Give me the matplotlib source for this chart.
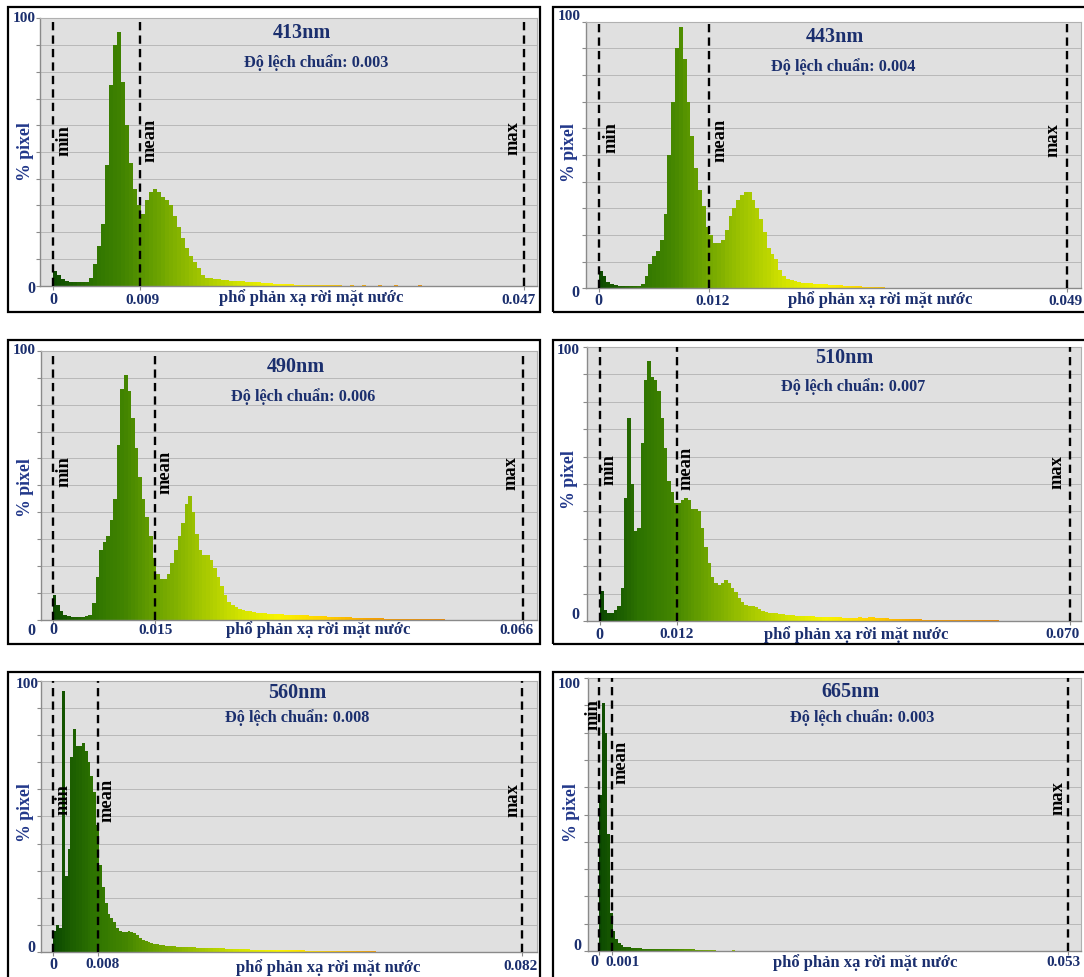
import matplotlib
matplotlib.use('Agg')
import matplotlib.pyplot as plt
from matplotlib.colors import LinearSegmentedColormap
from matplotlib.patches import Rectangle

plt.rcParams['font.family'] = ['Liberation Serif', 'DejaVu Serif']

# ---------------- data ----------------
bands = ['413nm', '443nm', '490nm', '510nm', '560nm', '665nm']
std_labels = ['0.003', '0.004', '0.006', '0.007', '0.008', '0.003']
mean_values = [0.0087, 0.0116, 0.0144, 0.0115, 0.0078, 0.0014]
mean_labels = ['0.009', '0.012', '0.015', '0.012', '0.008', '0.001']
max_values = [0.047, 0.049, 0.066, 0.070, 0.082, 0.053]
max_labels = ['0.047', '0.049', '0.066', '0.070', '0.082', '0.053']
bin_widths = [0.0004, 0.0004, 0.0005, 0.0005, 0.0005, 0.0003]

h413 = [5.5, 4, 2.5, 1.8, 1.3, 1.2, 1.2, 1.2, 1.5, 3, 8, 15, 23, 45, 75, 90, 95, 76, 60, 46,
        36, 30, 27, 32, 35, 36, 35, 33, 32, 30, 26, 22, 18, 14, 11, 9, 6.5, 4, 3, 2.8,
        2.6, 2.4, 2.2, 2.0, 1.9, 1.8, 1.7, 1.6, 1.5, 1.5, 1.4, 1.2, 1.1, 1.0, 0.9, 0.8, 0.7, 0.6, 0.5, 0.5,
        0.4, 0.4, 0.4, 0.3, 0.3, 0.3, 0.2, 0.2, 0.1, 0.1, 0.1, 0.1, 0, 0, 0.1, 0, 0, 0.1, 0, 0,
        0, 0.1, 0, 0, 0, 0.1, 0, 0, 0, 0, 0, 0.1]
h443 = [6.5, 4.5, 2.5, 1.6, 1.2, 1.0, 0.9, 0.8, 0.8, 0.9, 1.0, 1.8, 4.5, 9, 12, 14, 18, 28, 50, 70,
        90, 98, 86, 70, 57, 45, 37, 31, 23, 20, 17, 17, 18, 22, 27, 30, 33, 35, 36, 36,
        33, 30, 26, 21, 15, 13, 11, 7, 4.5, 3.5, 3.0, 2.6, 2.3, 2.1, 2.0, 1.9, 1.8, 1.7, 1.6, 1.5,
        1.4, 1.3, 1.2, 1.1, 1.0, 0.9, 0.9, 0.8, 0.7, 0.6, 0.5, 0.5, 0.4, 0.4, 0.4, 0.3, 0.3, 0.3, 0.3, 0.3,
        0.2, 0.2, 0.2, 0.2, 0.2, 0.2, 0.2, 0.1, 0.1]
h490 = [9, 5.5, 3, 1.8, 1.2, 1.0, 0.9, 0.9, 1.0, 1.2, 1.8, 6, 16, 26, 29, 31, 37, 45, 65, 86,
        91, 85, 75, 64, 53, 45, 38, 31, 23, 17, 15, 15, 17, 21, 26, 31, 36, 43, 46, 40,
        32, 26, 24, 24, 22, 19, 16, 12.5, 9, 6.5, 5.5, 4.7, 4, 3.5, 3.2, 3.0, 2.8, 2.6, 2.4, 2.3,
        2.2, 2.1, 2.0, 1.9, 1.9, 1.8, 1.8, 1.7, 1.6, 1.6, 1.5, 1.5, 1.4, 1.4, 1.3, 1.2, 1.2, 1.1, 1.1, 1.0,
        1.0, 0.9, 0.9, 0.8, 0.7, 0.7, 0.6, 0.6, 0.5, 0.5, 0.4, 0.4, 0.4, 0.3, 0.3, 0.3, 0.3, 0.2, 0.2, 0.2,
        0.2, 0.2, 0.2, 0.15, 0.15, 0.1, 0.1, 0.1, 0.1, 0.1]
h510 = [11, 4, 2.8, 2.8, 4, 5.5, 12, 45, 74, 50, 33, 34, 65, 88, 95, 89, 88, 84, 74, 63,
        51, 47, 43, 43, 44, 45, 44, 41, 41, 40, 34, 27, 21, 16, 14, 13, 14, 15, 14, 12,
        10.5, 8.5, 7, 6, 5.5, 5.5, 5, 4.2, 3.7, 3.3, 3.1, 3.0, 2.9, 2.7, 2.5, 2.3, 2.2, 2.1, 2.0, 1.9,
        1.8, 1.8, 1.7, 1.7, 1.6, 1.6, 1.5, 1.5, 1.4, 1.4, 1.3, 1.3, 1.2, 1.2, 1.1, 1.1, 1.2, 1.3, 1.2, 1.2,
        1.4, 1.3, 1.1, 1.0, 1.0, 1.0, 0.9, 0.9, 0.9, 0.8, 0.8, 0.7, 0.7, 0.6, 0.6, 0.6, 0.5, 0.5, 0.5, 0.5,
        0.4, 0.4, 0.4, 0.4, 0.3, 0.3, 0.3, 0.3, 0.3, 0.3, 0.2, 0.2, 0.2, 0.2, 0.2, 0.2, 0.2, 0.2, 0.2, 0.15,
        0.15, 0.15, 0.15, 0.15, 0.1, 0.1, 0.1, 0.1, 0.1]
h560 = [8, 10, 9, 96, 28, 38, 72, 82, 76, 76, 77, 74, 70, 65, 59, 47, 32, 24, 18, 14,
        12.5, 11, 9, 7.8, 7.4, 7.6, 7.8, 7.6, 7.0, 6.2, 5.4, 4.6, 4.1, 3.7, 3.4, 3.1, 2.9, 2.7, 2.6, 2.5,
        2.4, 2.3, 2.2, 2.1, 2.1, 2.0, 1.9, 1.9, 1.8, 1.8, 1.7, 1.7, 1.6, 1.6, 1.5, 1.5, 1.5, 1.4, 1.4, 1.4,
        1.3, 1.3, 1.3, 1.2, 1.2, 1.2, 1.1, 1.1, 1.1, 1.0, 1.0, 1.0, 1.0, 0.9, 0.9, 0.9, 0.9, 0.9, 0.8, 0.8,
        0.8, 0.8, 0.8, 0.7, 0.7, 0.7, 0.7, 0.7, 0.6, 0.6, 0.6, 0.6, 0.6, 0.6, 0.5, 0.5, 0.5, 0.5, 0.5, 0.4,
        0.4, 0.4, 0.4, 0.4, 0.3, 0.3, 0.3, 0.3, 0.3, 0.3, 0.3, 0.3, 0.3, 0.2, 0.2, 0.2, 0.2, 0.2, 0.2, 0.2,
        0.2, 0.2, 0.2, 0.15, 0.15, 0.15, 0.15, 0.15, 0.1, 0.1, 0.1, 0.1, 0.1, 0.1, 0.1, 0.1, 0.1, 0.1, 0.1, 0.1,
        0.1, 0.1, 0.1]
h665 = [57, 91, 80, 43, 14, 7.5, 4.5, 3, 2.2, 1.6, 1.4, 1.3, 1.2, 1.1, 1.0, 1.0, 0.9, 0.9, 0.9, 0.9,
        0.9, 0.8, 0.8, 0.8, 0.8, 0.8, 0.7, 0.7, 0.7, 0.7, 0.7, 0.6, 0.6, 0.6, 0.6, 0.6, 0.5, 0.5, 0.5, 0.5,
        0.5, 0.3, 0.2, 0.2, 0.1, 0, 0, 0, 0, 0, 0.2]
heights = [h413, h443, h490, h510, h560, h665]

# ---------------- layout (pixel positions) ----------------
W, H = 1084, 977
layout = [
    dict(box=(8, 7, 540, 312), ax=(40, 18.3, 537, 285.7), minpx=53, maxpx=524,
         title=(302, 33), sub=(316, 63), xlab=(311, 298), ylab=(25, 152), y100=(24, 18), y0=(31, 289),
         t0=(53, 300), tmean=(142, 300), tmax=(518, 300),
         mintxt=(64, 141), meantxt=(150, 140), maxtxt=(513, 138)),
    dict(box=(553, 7, 1090, 312), ax=(586, 21.7, 1081, 288.3), minpx=598.7, maxpx=1066.7,
         title=(835, 37), sub=(843, 67), xlab=(880, 300), ylab=(569, 153), y100=(569, 17), y0=(575, 293),
         t0=(598, 301), tmean=(713, 301), tmax=(1065, 301),
         mintxt=(611, 138), meantxt=(720, 140), maxtxt=(1053, 140)),
    dict(box=(8, 340, 540, 644), ax=(40.7, 351, 537, 619.5), minpx=52.8, maxpx=523.1,
         title=(296, 367), sub=(303, 397), xlab=(318, 630), ylab=(26, 488), y100=(24, 350), y0=(31, 631),
         t0=(53, 630), tmean=(156, 630), tmax=(516, 630),
         mintxt=(64, 472), meantxt=(165, 472), maxtxt=(511, 473)),
    dict(box=(553, 340, 1090, 644), ax=(587, 347, 1081, 621), minpx=600.4, maxpx=1069.5,
         title=(844, 358), sub=(853, 387), xlab=(856, 635), ylab=(570, 480), y100=(568, 351), y0=(575, 615),
         t0=(599, 635), tmean=(677, 635), tmax=(1062, 635),
         mintxt=(609, 470), meantxt=(686, 468), maxtxt=(1057, 472)),
    dict(box=(8, 672, 540, 990), ax=(40.7, 680.5, 537, 952.3), minpx=53.3, maxpx=522,
         title=(297, 693), sub=(297, 718), xlab=(328, 968), ylab=(25, 813), y100=(27, 685), y0=(31, 948),
         t0=(53, 965), tmean=(103, 965), tmax=(521, 966),
         mintxt=(63, 800), meantxt=(107, 800), maxtxt=(513, 800)),
    dict(box=(553, 672, 1090, 990), ax=(588, 678, 1081, 951), minpx=599.4, maxpx=1068,
         title=(851, 692), sub=(862, 718), xlab=(865, 963), ylab=(571, 813), y100=(569, 684), y0=(577, 946),
         t0=(594, 962), tmean=(623, 962), tmax=(1063, 962),
         mintxt=(593, 715), meantxt=(621, 762), maxtxt=(1058, 798)),
]

cmap = LinearSegmentedColormap.from_list('refl', [
    (0.00, '#0c4a00'), (0.08, '#2c7200'), (0.15, '#428400'), (0.23, '#70a600'),
    (0.32, '#a6c800'), (0.40, '#d4e400'), (0.48, '#f8f400'), (0.58, '#ffd000'),
    (0.68, '#f5a000'), (1.00, '#e87000')])

NAVY = '#1b2f6e'
fig = plt.figure(figsize=(W / 100, H / 100), dpi=100)


def fx(x):
    return x / W


def fy(y):
    return 1 - y / H


def ftext(pos, s, size, color=NAVY, rot=0, ha='center'):
    fig.text(fx(pos[0]), fy(pos[1]), s, ha=ha, va='center', fontsize=size,
             fontweight='bold', color=color, rotation=rot, zorder=5)


for k in range(6):
    L = layout[k]
    x0, y0, x1, y1 = L['box']
    fig.add_artist(Rectangle((fx(x0), fy(y1)), (x1 - x0) / W, (y1 - y0) / H,
                             transform=fig.transFigure, fill=False, lw=1.6, ec='black', zorder=1))
    al, at, ar, ab = L['ax']
    ax = fig.add_axes([fx(al), fy(ab), (ar - al) / W, (ab - at) / H])
    ax.set_facecolor('#e0e0e0')
    scale = (L['maxpx'] - L['minpx']) / max_values[k]
    ax.set_xlim(-(L['minpx'] - al) / scale, (ar - L['minpx']) / scale)
    ax.set_ylim(0, 100)

    bw = bin_widths[k]
    hs = heights[k]
    lefts = [i * bw for i in range(len(hs))]
    cols = [cmap(min(1.0, (lx + bw / 2) / max_values[k])) for lx in lefts]
    ax.bar(lefts, hs, width=bw, align='edge', color=cols, linewidth=0, zorder=2)

    for xv in (0.0, mean_values[k], max_values[k]):
        ax.axvline(xv, color='black', lw=1.7, dashes=(3.5, 2.2), zorder=4)

    ax.set_yticks(range(0, 101, 10))
    ax.set_xticks([0.0, mean_values[k], max_values[k]])
    ax.grid(axis='y', color='#b8b8b8', lw=0.7, zorder=1)
    ax.set_axisbelow(True)
    ax.tick_params(axis='both', labelleft=False, labelbottom=False, direction='out',
                   length=3, width=0.8, color='#8a8a8a')
    for side in ('top', 'right'):
        ax.spines[side].set_color('#b0b0b0')
        ax.spines[side].set_linewidth(0.8)
    for side in ('left', 'bottom'):
        ax.spines[side].set_color('#8a8a8a')
        ax.spines[side].set_linewidth(1.0)

    ftext(L['title'], bands[k], 14.5)
    ftext(L['sub'], 'Độ lệch chuẩn: ' + std_labels[k], 11.7)
    ftext(L['xlab'], 'phổ phản xạ rời mặt nước', 12)
    ftext(L['ylab'], '% pixel', 12.8, color='#22388a', rot=90)
    ftext(L['y100'], '100', 11)
    ftext(L['y0'], '0', 11.5)
    ftext(L['t0'], '0', 11.5)
    ftext(L['tmean'], mean_labels[k], 11)
    ftext(L['tmax'], max_labels[k], 11)
    ftext(L['mintxt'], 'min', 13.3, color='black', rot=90)
    ftext(L['meantxt'], 'mean', 13.3, color='black', rot=90)
    ftext(L['maxtxt'], 'max', 13.3, color='black', rot=90)

fig.savefig('out.png', dpi=100, facecolor='white')
